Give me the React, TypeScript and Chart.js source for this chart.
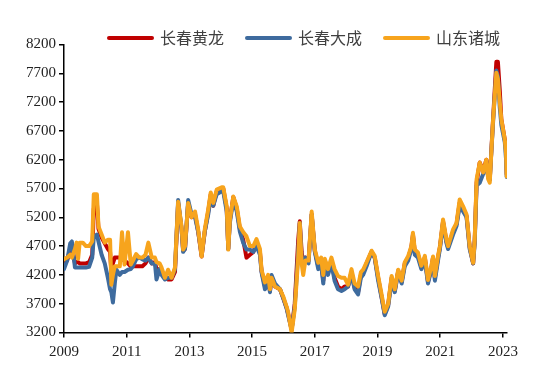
import React, { useEffect, useRef } from "react";
import { Chart, registerables } from "chart.js";

Chart.register(...registerables);

const seriesNames = ["长春黄龙", "长春大成", "山东诸城"];
const yTicks = [3200, 3700, 4200, 4700, 5200, 5700, 6200, 6700, 7200, 7700, 8200];
const xTicks = [2009, 2011, 2013, 2015, 2017, 2019, 2021, 2023];

const dates = [
  2009.0, 2009.1, 2009.2, 2009.25, 2009.35, 2009.4, 2009.45, 2009.5, 2009.6, 2009.7, 2009.8, 2009.9, 2009.95,
  2010.05, 2010.1, 2010.2, 2010.3, 2010.4, 2010.47, 2010.51, 2010.56, 2010.62, 2010.67, 2010.78, 2010.85, 2010.93,
  2011.04, 2011.13, 2011.2, 2011.3, 2011.4, 2011.5, 2011.6, 2011.69, 2011.8, 2011.9, 2011.95, 2012.05, 2012.11,
  2012.22, 2012.32, 2012.43, 2012.54, 2012.64, 2012.75, 2012.8, 2012.86, 2012.96, 2013.07, 2013.18, 2013.28,
  2013.39, 2013.49, 2013.6, 2013.68, 2013.76, 2013.87, 2014.03, 2014.08, 2014.19, 2014.24, 2014.29, 2014.4,
  2014.51, 2014.61, 2014.72, 2014.82, 2014.93, 2015.04, 2015.14, 2015.25, 2015.3, 2015.41, 2015.51, 2015.57,
  2015.62, 2015.73, 2015.89, 2015.99, 2016.1, 2016.15, 2016.26, 2016.36, 2016.47, 2016.52, 2016.58, 2016.63,
  2016.7, 2016.8, 2016.9, 2017.0, 2017.11, 2017.2, 2017.27, 2017.32, 2017.42, 2017.53, 2017.63, 2017.74,
  2017.85, 2017.95, 2018.06, 2018.17, 2018.27, 2018.38, 2018.47, 2018.54, 2018.65, 2018.81, 2018.91, 2019.02,
  2019.13, 2019.23, 2019.34, 2019.45, 2019.55, 2019.66, 2019.77, 2019.87, 2019.98, 2020.08, 2020.13, 2020.19,
  2020.29, 2020.4, 2020.51, 2020.61, 2020.72, 2020.77, 2020.83, 2020.93, 2020.99, 2021.09, 2021.2, 2021.25,
  2021.41, 2021.52, 2021.62, 2021.73, 2021.84, 2021.94, 2022.05, 2022.1, 2022.16, 2022.26, 2022.37, 2022.47,
  2022.53, 2022.58, 2022.68, 2022.79, 2022.84, 2022.9, 2022.95, 2023.06, 2023.1, 2023.12,
];

const zhucheng = [
  4470, 4500, 4550, 4500, 4650, 4760, 4480, 4760, 4760, 4700, 4700, 4780, 5600,
  5600, 5040, 4900, 4760, 4810, 4810, 4030, 4200, 4350, 4350, 4350, 4940, 4380,
  4940, 4380, 4450, 4560, 4500, 4500, 4550, 4760, 4500, 4500, 4420, 4400, 4330,
  4150, 4290, 4150, 4330, 5470, 5040, 4640, 4700, 5450, 5200, 5300, 4990,
  4520, 4990, 5340, 5630, 5450, 5680, 5720, 5720, 5390, 4640, 5150, 5560,
  5390, 5040, 4940, 4870, 4700, 4700, 4820, 4650, 4290, 4070, 4200, 3950,
  4150, 4000, 3950, 3830, 3650, 3550, 3200, 3600, 4500, 5100, 4400, 4200,
  4450, 4450, 5300, 4640, 4410, 4500, 4200, 4480, 4300, 4500, 4300, 4180,
  4150, 4150, 4030, 4300, 4050, 4000, 4250, 4290, 4420, 4620, 4530, 4180,
  3860, 3560, 3700, 4180, 3950, 4290, 4100, 4420, 4530, 4700, 4930, 4640,
  4590, 4360, 4530, 4110, 4360, 4520, 4180, 4530, 4700, 5160, 4810, 4700,
  4990, 5100, 5510, 5390, 5250, 4700, 4410, 4810, 5860, 6150, 5980, 6200,
  5860, 5800, 6840, 7710, 7600, 7200, 6900, 6550, 6300, 5910,
];

const dacheng = [
  4300, 4450, 4750, 4780, 4330, 4330, 4330, 4330, 4330, 4330, 4340, 4500, 4850,
  4900, 4780, 4550, 4400, 4150, 3950, 3900, 3720, 4050, 4290, 4200, 4250, 4250,
  4290, 4300, 4350, 4470, 4500, 4470, 4450, 4500, 4400, 4400, 4120, 4300, 4200,
  4120, 4150, 4150, 4300, 5500, 5000, 4600, 4650, 5500, 5250, 5200, 4950,
  4550, 4950, 5250, 5550, 5400, 5600, 5650, 5650, 5300, 4650, 5100, 5500,
  5300, 4950, 4750, 4640, 4640, 4600, 4700, 4550, 4250, 3950, 4100, 3900,
  4200, 4050, 3950, 3800, 3620, 3500, 3250, 3650, 4600, 5100, 4500, 4350,
  4500, 4400, 5250, 4600, 4300, 4400, 4050, 4400, 4200, 4400, 4100, 3950,
  3920, 3950, 4000, 4200, 3950, 3860, 4150, 4200, 4350, 4600, 4500, 4100,
  3800, 3500, 3650, 4100, 3900, 4250, 4050, 4350, 4450, 4650, 4850, 4550,
  4500, 4300, 4450, 4050, 4300, 4450, 4100, 4450, 4650, 5100, 4750, 4650,
  4900, 5050, 5400, 5300, 5200, 4650, 4400, 4750, 5750, 5800, 5950, 6150,
  5900, 5850, 6800, 7750, 7650, 7100, 6800, 6500, 6200, 5900,
];

const huanglong = [
  4400, 4450, 4650, 4700, 4400, 4420, 4420, 4400, 4400, 4400, 4420, 4550, 5350,
  5450, 5000, 4850, 4750, 4650, 4600, 4250, 4400, 4500, 4500, 4500, 4480, 4450,
  4400, 4350, 4350, 4350, 4350, 4350, 4400, 4500, 4400, 4420, 4300, 4300, 4250,
  4150, 4120, 4120, 4250, 5450, 5000, 4620, 4650, 5450, 5200, 5250, 4950,
  4520, 4950, 5300, 5600, 5400, 5650, 5700, 5700, 5350, 4650, 5150, 5550,
  5350, 5000, 4800, 4500, 4550, 4600, 4750, 4600, 4270, 4000, 4150, 3920,
  4150, 4000, 3950, 3800, 3630, 3520, 3250, 3700, 4800, 5130, 4600, 4400,
  4500, 4450, 5250, 4620, 4350, 4450, 4100, 4450, 4250, 4450, 4150, 4000,
  3950, 4000, 4000, 4250, 3980, 3900, 4200, 4250, 4400, 4600, 4500, 4150,
  3820, 3520, 3680, 4150, 3920, 4270, 4080, 4400, 4500, 4680, 4900, 4600,
  4550, 4330, 4500, 4080, 4330, 4500, 4150, 4500, 4680, 5130, 4780, 4680,
  4950, 5080, 5450, 5350, 5220, 4680, 4400, 4800, 5800, 6150, 6000, 6200,
  5900, 5850, 6850, 7900, 7900, 7400, 6900, 6550, 6500, 5950,
];

const seriesValues = [huanglong, dacheng, zhucheng];
const seriesColors = ["#C00000", "#3E6B9E", "#F7A41D"];
const drawOrder = [3, 2, 1];

const legendPlugin = {
  id: "topLegend",
  afterDraw(chart: any) {
    const ctx = chart.ctx;
    ctx.save();
    ctx.font = '16px "Noto Sans CJK SC", sans-serif';
    ctx.textBaseline = "middle";
    ctx.textAlign = "left";
    let x = 107;
    const y = 38;
    chart.data.datasets.forEach((ds: any) => {
      ctx.strokeStyle = ds.borderColor;
      ctx.lineWidth = 4;
      ctx.lineCap = "round";
      ctx.beginPath();
      ctx.moveTo(x + 2, y);
      ctx.lineTo(x + 45, y);
      ctx.stroke();
      ctx.fillStyle = "#404040";
      ctx.fillText(ds.label, x + 53, y);
      x += 53 + ctx.measureText(ds.label).width + 21;
    });
    ctx.restore();
  },
};

export default function App() {
  const ref = useRef<HTMLCanvasElement | null>(null);

  useEffect(() => {
    if (!ref.current) return;
    const tickFont = { family: "'Times New Roman', 'Liberation Serif', serif", size: 15 };
    const chart = new Chart(ref.current, {
      type: "line",
      data: {
        datasets: seriesNames.map((name, i) => ({
          label: name,
          data: dates.map((d, j) => ({ x: d, y: seriesValues[i][j] })),
          borderColor: seriesColors[i],
          backgroundColor: seriesColors[i],
          borderWidth: 4,
          pointRadius: 0,
          tension: 0,
          borderJoinStyle: "round" as const,
          borderCapStyle: "round" as const,
          order: drawOrder[i],
        })),
      },
      options: {
        animation: false,
        responsive: false,
        devicePixelRatio: 1,
        layout: { padding: { top: 44.5, right: 43, bottom: 0, left: 0 } },
        plugins: {
          legend: { display: false },
          tooltip: { enabled: false },
        },
        scales: {
          x: {
            type: "linear",
            min: 2009,
            max: 2023.13,
            afterBuildTicks: (scale: any) => {
              scale.ticks = xTicks.map((v) => ({ value: v }));
            },
            afterFit: (scale: any) => {
              scale.height = 52.5;
            },
            ticks: {
              color: "#222",
              font: tickFont,
              padding: 6,
              maxRotation: 0,
              autoSkip: false,
              callback: (v: any) => String(v),
            },
            grid: {
              display: true,
              drawOnChartArea: false,
              drawTicks: true,
              tickLength: 5,
              color: "#000",
              lineWidth: 1.5,
            },
            border: { display: true, color: "#000", width: 1.5 },
          },
          y: {
            min: 3200,
            max: 8200,
            afterBuildTicks: (scale: any) => {
              scale.ticks = yTicks.map((v) => ({ value: v }));
            },
            afterFit: (scale: any) => {
              scale.width = 64;
            },
            ticks: {
              color: "#222",
              font: tickFont,
              padding: 3,
              autoSkip: false,
              callback: (v: any) => String(v),
            },
            grid: {
              display: true,
              drawOnChartArea: false,
              drawTicks: true,
              tickLength: 5,
              color: "#000",
              lineWidth: 1.5,
            },
            border: { display: true, color: "#000", width: 1.5 },
          },
        },
      },
      plugins: [legendPlugin],
    });
    return () => chart.destroy();
  }, []);

  return (
    <div style={{ position: "fixed", left: 0, top: 0, width: 550, height: 385, background: "#fff" }}>
      <canvas ref={ref} width={550} height={385} style={{ width: 550, height: 385 }} />
    </div>
  );
}
